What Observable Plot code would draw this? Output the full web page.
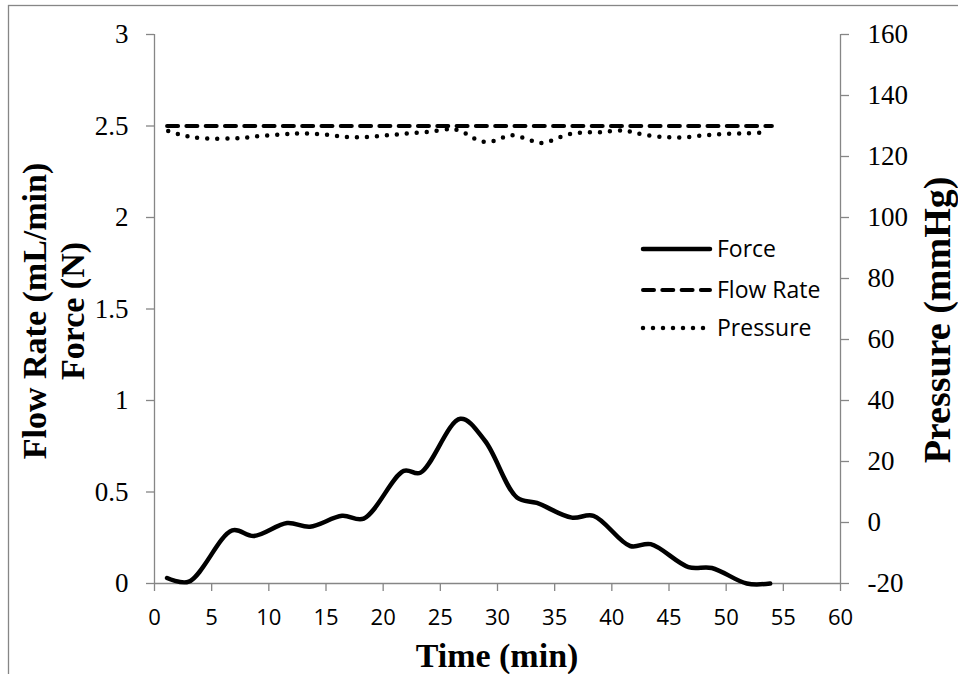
<!DOCTYPE html>
<html><head><meta charset="utf-8">
<script src="https://cdn.jsdelivr.net/npm/d3@7"></script>
<script src="https://cdn.jsdelivr.net/npm/@observablehq/plot@0.6"></script>
<style>html,body{margin:0;padding:0;background:#fff;overflow:hidden}</style>
</head><body><div id="chart"></div>
<script>
// ---- data ----
const forceTime   = [1.1, 3.0, 6.8, 8.7, 11.6, 13.6, 16.4, 18.3, 21.8, 23.25, 26.75, 28.9, 31.7, 33.45, 36.5, 38.4, 41.6, 43.4, 46.7, 48.75, 51.8, 53.85];
const forceValues = [0.03, 0.01, 0.29, 0.26, 0.33, 0.31, 0.37, 0.355, 0.615, 0.605, 0.90, 0.78, 0.47, 0.44, 0.36, 0.37, 0.205, 0.215, 0.09, 0.085, 0.0, 0.0];
const flowTime    = [1.1, 54.0];
const flowValues  = [2.5, 2.5];
const pressureTime   = [1.2, 2.1, 3.0, 4.0, 7.5, 8.4, 11.3, 13.0, 14.9, 16.8, 18.6, 20.5, 22.2, 24.1, 25.9, 26.75, 27.6, 28.4, 29.3, 30.2, 31.1, 32.0, 32.9, 33.7, 34.6, 35.5, 36.4, 37.2, 39.1, 40.9, 41.9, 42.7, 44.5, 46.3, 48.2, 50.0, 51.9, 53.7];
const pressureValues = [128.4, 127.3, 126.6, 126.0, 126.0, 126.4, 127.3, 127.6, 127.2, 126.4, 126.4, 127.0, 127.6, 128.1, 129.0, 128.4, 126.7, 125.1, 124.8, 125.8, 127.0, 126.4, 125.3, 124.4, 125.1, 126.4, 127.4, 127.8, 128.0, 128.5, 127.9, 127.2, 126.4, 126.3, 127.0, 127.4, 127.6, 127.9];
const xTicks = [0, 5, 10, 15, 20, 25, 30, 35, 40, 45, 50, 55, 60];
const leftTicks = [0, 0.5, 1, 1.5, 2, 2.5, 3];
const rightTicks = [-20, 0, 20, 40, 60, 80, 100, 120, 140, 160];
const seriesNames = ["Force", "Flow Rate", "Pressure"];
const xTitle = "Time (min)";
const leftTitles = ["Flow Rate (mL/min)", "Force (N)"];
const rightTitle = "Pressure (mmHg)";

// pressure (right axis, -20..160) mapped onto the left scale (0..3)
const pToY = p => (p + 20) / 60;

const force = forceTime.map((t, i) => ({t, v: forceValues[i]}));
const flow = flowTime.map((t, i) => ({t, v: flowValues[i]}));
const pressure = pressureTime.map((t, i) => ({t, v: pToY(pressureValues[i])}));

const gray = "#868686";
const serif = "Liberation Serif";

const svg = Plot.plot({
  width: 958, height: 674,
  marginLeft: 154, marginRight: 118, marginTop: 34, marginBottom: 91,
  x: {domain: [0, 60]},
  y: {domain: [0, 3]},
  marks: [
    Plot.ruleX([0, 60], {stroke: gray, strokeWidth: 1.3}),
    Plot.ruleY([0], {stroke: gray, strokeWidth: 1.3}),
    Plot.axisX(xTicks, {tickSize: 8, tickPadding: 18, stroke: gray, strokeWidth: 1.3, fontSize: 22, fontFamily: "Open Sans", tickFormat: d => String(d), label: null}),
    Plot.axisY(leftTicks, {anchor: "left", tickSize: 8, tickPadding: 18, stroke: gray, strokeWidth: 1.3, fontSize: 27, fontFamily: serif, tickFormat: d => String(d), label: null}),
    Plot.axisY(rightTicks.map(pToY), {anchor: "right", tickSize: 8, tickPadding: 19, stroke: gray, strokeWidth: 1.3, fontSize: 27, fontFamily: serif, tickFormat: v => String(Math.round(v * 60 - 20)), label: null}),
    Plot.line(flow, {x: "t", y: "v", stroke: "black", strokeWidth: 4, strokeDasharray: "11 8.3", strokeLinecap: "round"}),
    Plot.line(pressure, {x: "t", y: "v", stroke: "black", strokeWidth: 4.5, strokeDasharray: "0 10", strokeLinecap: "round", curve: "catmull-rom"}),
    Plot.line(force, {x: "t", y: "v", stroke: "black", strokeWidth: 4.5, curve: "catmull-rom", strokeLinejoin: "round"})
  ]
});
document.getElementById("chart").appendChild(svg);

const s = d3.select(svg);
// outer frame
s.insert("rect", ":first-child").attr("x", 8.5).attr("y", 5.5).attr("width", 1200).attr("height", 1200)
  .attr("fill", "none").attr("stroke", gray).attr("stroke-width", 1.3);

// titles
s.append("text").attr("x", 497).attr("y", 667).attr("text-anchor", "middle")
  .attr("font-family", serif).attr("font-weight", "bold").attr("font-size", 34).text(xTitle);
[[46, leftTitles[0]], [84, leftTitles[1]]].forEach(([x, t]) => {
  s.append("text").attr("transform", `translate(${x},311) rotate(-90)`).attr("text-anchor", "middle")
    .attr("font-family", serif).attr("font-weight", "bold").attr("font-size", 34).text(t);
});
s.append("text").attr("transform", `translate(950,320) rotate(-90)`).attr("text-anchor", "middle")
  .attr("font-family", serif).attr("font-weight", "bold").attr("font-size", 38).text(rightTitle);

// legend
const styles = [
  {w: 4.5, dash: null},
  {w: 4, dash: "11 8.3"},
  {w: 4.5, dash: "0 10"}
];
const legY = [249, 290, 328];
seriesNames.forEach((name, i) => {
  const g = s.append("g");
  g.append("line").attr("x1", 643).attr("x2", 710).attr("y1", legY[i]).attr("y2", legY[i])
    .attr("stroke", "black").attr("stroke-width", styles[i].w).attr("stroke-linecap", "round")
    .attr("stroke-dasharray", styles[i].dash);
  g.append("text").attr("x", 717).attr("y", legY[i]).attr("dy", "0.35em").attr("text-anchor", "start")
    .attr("font-family", "Open Sans").attr("font-size", 23).text(name);
});
</script>
</body></html>
